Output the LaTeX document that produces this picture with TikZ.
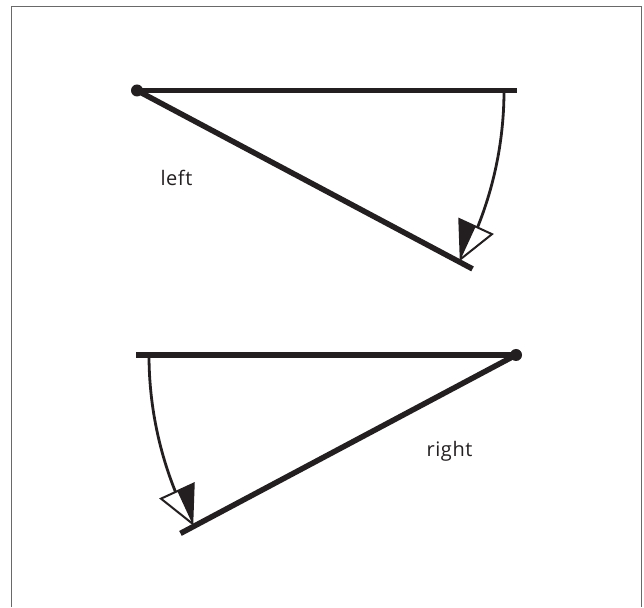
\documentclass[tikz,border=0pt]{standalone}
\usepackage{fontspec}
\setmainfont{Open Sans}[LetterSpace=3]
\usetikzlibrary{calc}
\definecolor{inkblack}{RGB}{35,31,32}
\definecolor{framegray}{RGB}{105,105,105}

\begin{document}
\begin{tikzpicture}[
  x=1pt, y=1pt,
  every node/.style={font=\fontsize{20}{24}\selectfont, text=inkblack},
  pivot/.style={circle, fill=inkblack, minimum size=12pt, inner sep=0pt},
  bar/.style={line width=5.5pt, draw=inkblack},
  swing/.style={line width=2.8pt, draw=inkblack},
  headfill/.style={fill=inkblack},
  headline/.style={line width=2pt, draw=inkblack, fill=white, line join=miter},
  frame/.style={line width=1.6pt, draw=framegray},
]
\useasboundingbox (0,0) rectangle (644,607);

% Frame
\draw[frame] (11.5,0) |- (641.5,600.5) -- (641.5,0);

% Upper lever
\node[pivot] (pivA) at (137,516.5) {};
\coordinate (barA) at (517,516.5);
\coordinate (armA) at ($(pivA)+(-28:380)$);
\draw[bar] (pivA.center) -- (barA);
\draw[bar] (pivA.center) -- (armA);
\draw[swing] ($(pivA)+(0:367)$) arc[start angle=0, end angle=-22, radius=367];
\coordinate (tipA) at ($(pivA)+(-27.5:365)$);
\coordinate (midA) at ($(pivA)+(-21.9:365)$);
\draw[headline] (tipA) -- ($(midA)!18pt!90:(tipA)$) -- ($(midA)!18pt!-90:(tipA)$) -- cycle;
\fill[headfill] (tipA) -- (midA) -- ($(midA)!18pt!-90:(tipA)$) -- cycle;
\node[anchor=base west] (lblA) at (157,421) {left};

% Lower lever
\node[pivot] (pivB) at (516,252) {};
\coordinate (barB) at (136,252);
\coordinate (armB) at ($(pivB)+(208:380)$);
\draw[bar] (pivB.center) -- (barB);
\draw[bar] (pivB.center) -- (armB);
\draw[swing] ($(pivB)+(180:367)$) arc[start angle=180, end angle=202, radius=367];
\coordinate (tipB) at ($(pivB)+(207.5:365)$);
\coordinate (midB) at ($(pivB)+(201.9:365)$);
\draw[headline] (tipB) -- ($(midB)!18pt!90:(tipB)$) -- ($(midB)!18pt!-90:(tipB)$) -- cycle;
\fill[headfill] (tipB) -- (midB) -- ($(midB)!18pt!90:(tipB)$) -- cycle;
\node[anchor=base west] (lblB) at (423,150) {right};

\end{tikzpicture}
\end{document}
